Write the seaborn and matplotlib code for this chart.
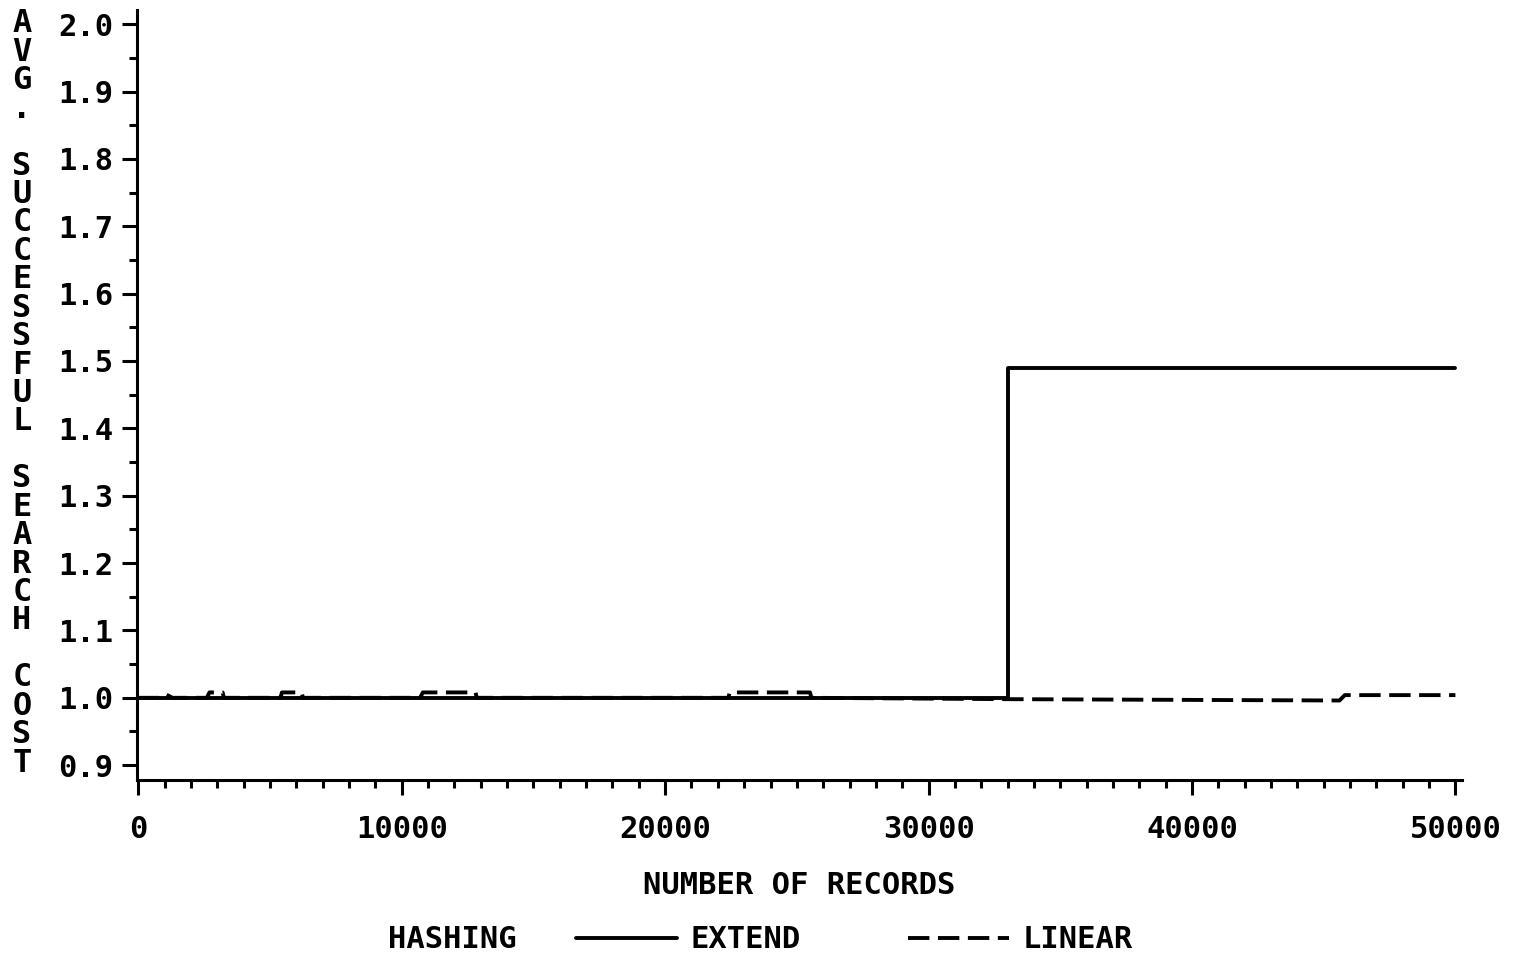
import numpy as np
import pandas as pd
import matplotlib
matplotlib.use("Agg")
import matplotlib.pyplot as plt
from matplotlib.ticker import MultipleLocator, FormatStrFormatter
import seaborn as sns

# Average successful search cost vs. number of records, two hashing schemes
extend_records = [0, 33000, 33000, 50000]
extend_cost = [1.0, 1.0, 1.49, 1.49]

linear_records = [0, 800, 1000, 1300, 2600, 2700, 3200, 3250, 5400, 5450, 6200, 6250,
                  10700, 10800, 12800, 12850, 22400, 22450, 25500, 25550, 33000,
                  45600, 45800, 50000]
linear_cost = [1.0, 1.0, 1.006, 1.0, 1.0, 1.008, 1.008, 1.0, 1.0, 1.008, 1.008, 1.0,
               1.0, 1.008, 1.008, 1.0, 1.0, 1.008, 1.008, 1.0, 0.998,
               0.996, 1.004, 1.004]

scheme_names = ["EXTEND", "LINEAR"]
y_label = "AVG. SUCCESSFUL SEARCH COST"
x_label = "NUMBER OF RECORDS"
legend_title = "HASHING"

df = pd.concat([
    pd.DataFrame({"records": extend_records, "cost": extend_cost, "scheme": scheme_names[0]}),
    pd.DataFrame({"records": linear_records, "cost": linear_cost, "scheme": scheme_names[1]}),
], ignore_index=True)

sns.set_style("ticks")
plt.rcParams["font.family"] = ["DejaVu Sans Mono"]
plt.rcParams["font.weight"] = "bold"
for key in ["text.color", "axes.labelcolor", "xtick.color", "ytick.color", "axes.edgecolor"]:
    plt.rcParams[key] = "black"
FS = 22

W, H = 1513, 958
fig = plt.figure(figsize=(W / 100, H / 100), dpi=100)
left, right, top, bottom = 137, 1462, 10, 780
ax = fig.add_axes([left / W, 1 - bottom / H, (right - left) / W, (bottom - top) / H])

sns.lineplot(data=df, x="records", y="cost", style="scheme", style_order=scheme_names,
             dashes={"EXTEND": "", "LINEAR": (5.5, 2.2)}, color="black",
             estimator=None, sort=False, lw=2.8, legend=False, ax=ax)

ax.set_xlim(-50, 50250)
ax.set_ylim(0.878, 2.021)
ax.xaxis.set_major_locator(MultipleLocator(10000))
ax.xaxis.set_minor_locator(MultipleLocator(1000))
ax.yaxis.set_major_locator(MultipleLocator(0.1))
ax.yaxis.set_minor_locator(MultipleLocator(0.05))
ax.yaxis.set_major_formatter(FormatStrFormatter("%.1f"))

for s in ["top", "right"]:
    ax.spines[s].set_visible(False)
for s in ["left", "bottom"]:
    ax.spines[s].set_linewidth(2.2)

ax.tick_params(axis="both", which="major", labelsize=FS, width=2.2, length=11)
ax.tick_params(axis="x", which="major", pad=14)
ax.tick_params(axis="y", which="major", pad=6)
ax.tick_params(axis="both", which="minor", width=2.2, length=6)

ax.set_xlabel(x_label, fontsize=FS, fontweight="bold", labelpad=20)
ax.set_ylabel("")

# Stacked vertical axis title, one character per row
y0, y1 = 24, 763
step = (y1 - y0) / (len(y_label) - 1)
for i, ch in enumerate(y_label):
    fig.text(22 / W, 1 - (y0 + i * step) / H, ch, fontsize=FS + 1, fontweight="bold",
             ha="center", va="center")

# Legend row
fig.text(388 / W, 1 - 940 / H, legend_title, fontsize=FS, fontweight="bold",
         ha="left", va="center")
handles = ax.lines[:2]
fig.legend(handles, scheme_names, loc="center left", bbox_to_anchor=(576 / W, 1 - 940 / H),
           ncol=2, frameon=False, prop={"size": FS, "weight": "bold"},
           borderpad=0, borderaxespad=0,
           handlelength=3.3, columnspacing=3.5, handletextpad=0.45)

fig.savefig("out.png", dpi=100)
